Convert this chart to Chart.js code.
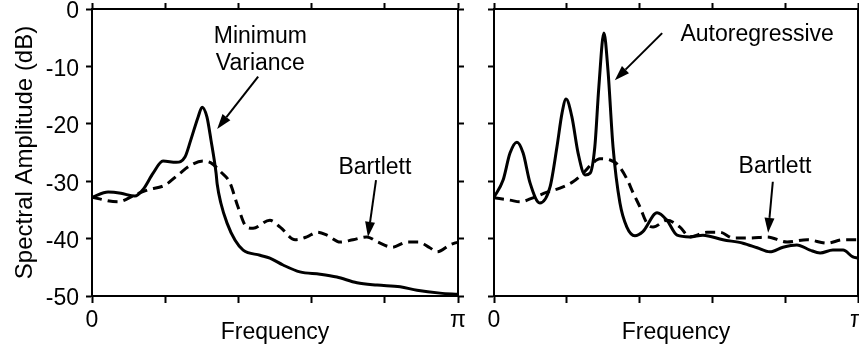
<!DOCTYPE html>
<html>
<head>
<meta charset="utf-8">
<script src="https://cdn.jsdelivr.net/npm/chart.js@4/dist/chart.umd.min.js"></script>
<style>
  html, body { margin: 0; padding: 0; background: #fff; overflow: hidden; }
  #leftChart { position: absolute; left: 0; top: 0; }
  #rightChart { position: absolute; left: 470px; top: 0; }
</style>
</head>
<body>
<canvas id="leftChart" width="470" height="351"></canvas>
<canvas id="rightChart" width="389" height="351"></canvas>
<script>
// frequency is given as a fraction of pi, amplitude in dB
const xTickValues = [0, 0.2, 0.4, 0.6, 0.8, 1];
const xTickLabels = ['0', '', '', '', '', 'π'];
const yTickValues = [0, -10, -20, -30, -40, -50];
const yTickLabels = ['0', '-10', '-20', '-30', '-40', '-50'];

// left panel: minimum variance vs Bartlett
const mvFreq = [0, 0.044, 0.079, 0.117, 0.139, 0.167, 0.194, 0.230, 0.254, 0.270, 0.290, 0.301, 0.314, 0.325, 0.339, 0.342, 0.352, 0.369, 0.391, 0.413, 0.459, 0.486, 0.522, 0.568, 0.623, 0.669, 0.724, 0.779, 0.842, 0.888, 0.951, 1];
const mvAmp  = [-32.8, -31.9, -32.1, -32.6, -31.5, -28.6, -26.5, -26.7, -25.8, -22.8, -18.8, -17.1, -18.8, -22.8, -28.6, -30.5, -33.8, -37.3, -40.3, -42.0, -42.9, -43.4, -44.6, -45.8, -46.2, -46.7, -47.7, -48.1, -48.4, -49.0, -49.5, -49.7];

const bartLFreq = [0, 0.071, 0.117, 0.153, 0.199, 0.235, 0.270, 0.303, 0.325, 0.352, 0.377, 0.399, 0.423, 0.440, 0.486, 0.514, 0.555, 0.587, 0.615, 0.642, 0.678, 0.713, 0.751, 0.781, 0.820, 0.861, 0.891, 0.923, 0.943, 0.978, 1];
const bartLAmp  = [-32.8, -33.6, -32.4, -31.5, -30.7, -28.9, -27.2, -26.5, -26.8, -28.4, -30.3, -34.5, -38.0, -38.2, -36.8, -38.0, -40.2, -39.7, -38.9, -39.4, -40.6, -40.2, -39.7, -40.6, -41.5, -40.6, -40.6, -41.6, -42.3, -41.1, -40.6];

// right panel: autoregressive vs Bartlett
const arFreq = [0, 0.025, 0.044, 0.063, 0.080, 0.099, 0.126, 0.154, 0.173, 0.187, 0.198, 0.214, 0.231, 0.250, 0.264, 0.277, 0.288, 0.302, 0.313, 0.327, 0.346, 0.365, 0.387, 0.409, 0.448, 0.475, 0.503, 0.538, 0.574, 0.629, 0.684, 0.723, 0.758, 0.794, 0.832, 0.868, 0.896, 0.931, 0.959, 0.986, 1];
const arAmp  = [-32.8, -29.8, -25.1, -23.2, -25.1, -30.3, -33.8, -31.0, -24.0, -18.1, -15.7, -18.8, -25.1, -28.9, -28.6, -24.0, -13.6, -4.2, -10.6, -24.0, -33.8, -38.0, -39.5, -38.8, -35.5, -36.8, -39.4, -39.7, -39.4, -40.2, -40.8, -41.6, -42.3, -41.5, -41.1, -42.0, -42.5, -42.0, -42.0, -43.2, -43.4];

const bartRFreq = [0, 0.044, 0.071, 0.107, 0.146, 0.181, 0.217, 0.245, 0.272, 0.291, 0.319, 0.341, 0.365, 0.382, 0.401, 0.420, 0.437, 0.475, 0.511, 0.538, 0.585, 0.621, 0.657, 0.703, 0.750, 0.805, 0.860, 0.915, 0.959, 1];
const bartRAmp  = [-32.9, -33.3, -33.6, -32.9, -31.9, -31.2, -30.1, -28.6, -26.8, -26.1, -26.3, -27.2, -29.6, -32.0, -34.5, -37.3, -38.0, -36.8, -38.0, -39.7, -38.9, -38.9, -39.9, -39.9, -39.7, -40.6, -40.2, -40.8, -40.2, -40.2];

// labels and arrows, placed in data units
const leftTexts = [
  { text: 'Minimum', x: 0.460, y: -4.8 },
  { text: 'Variance', x: 0.460, y: -9.5 },
  { text: 'Bartlett', x: 0.773, y: -27.7 }
];
const leftArrows = [
  { x1: 0.454, y1: -11.8, x2: 0.342, y2: -20.9 },
  { x1: 0.776, y1: -29.8, x2: 0.754, y2: -39.7 }
];
const rightTexts = [
  { text: 'Autoregressive', x: 0.723, y: -4.4 },
  { text: 'Bartlett', x: 0.772, y: -27.5 }
];
const rightArrows = [
  { x1: 0.462, y1: -4.2, x2: 0.332, y2: -12.4 },
  { x1: 0.766, y1: -30.1, x2: 0.753, y2: -39.0 }
];

Chart.defaults.font.family = "'Liberation Sans', Arial, Helvetica, sans-serif";
Chart.defaults.color = '#000';

const toPoints = (xs, ys) => xs.map((x, i) => ({ x: x, y: ys[i] }));

function notesPlugin(texts, arrows) {
  return {
    id: 'notes',
    afterDatasetsDraw(chart) {
      const ctx = chart.ctx, sx = chart.scales.x, sy = chart.scales.y;
      ctx.save();
      ctx.fillStyle = '#000';
      ctx.strokeStyle = '#000';
      ctx.font = "23px 'Liberation Sans', Arial, sans-serif";
      ctx.textAlign = 'center';
      ctx.textBaseline = 'middle';
      texts.forEach(t => ctx.fillText(t.text, sx.getPixelForValue(t.x), sy.getPixelForValue(t.y)));
      arrows.forEach(a => {
        const x1 = sx.getPixelForValue(a.x1), y1 = sy.getPixelForValue(a.y1);
        const x2 = sx.getPixelForValue(a.x2), y2 = sy.getPixelForValue(a.y2);
        const ang = Math.atan2(y2 - y1, x2 - x1);
        const len = 15, half = 5;
        const bx = x2 - len * Math.cos(ang), by = y2 - len * Math.sin(ang);
        ctx.lineWidth = 2;
        ctx.beginPath();
        ctx.moveTo(x1, y1);
        ctx.lineTo(bx, by);
        ctx.stroke();
        ctx.beginPath();
        ctx.moveTo(x2, y2);
        ctx.lineTo(bx + half * Math.sin(ang), by - half * Math.cos(ang));
        ctx.lineTo(bx - half * Math.sin(ang), by + half * Math.cos(ang));
        ctx.closePath();
        ctx.fill();
      });
      ctx.restore();
    }
  };
}

function makeScales(showY, yWidth, rightWidth) {
  const grid = (len) => ({ drawOnChartArea: false, tickLength: len, tickWidth: 2, color: '#000' });
  const border = { color: '#000', width: 2 };
  return {
    x: {
      type: 'linear', position: 'bottom', min: 0, max: 1,
      afterBuildTicks: s => { s.ticks = xTickValues.map(v => ({ value: v })); },
      ticks: { autoSkip: false, maxRotation: 0, padding: 4, font: { size: 23 },
        callback: (v, i) => xTickLabels[i] },
      grid: grid(7), border: border,
      title: { display: true, text: 'Frequency', font: { size: 23 }, padding: { top: 0, bottom: 5 } },
      afterFit: s => { s.height = 55; s.paddingLeft = 0; s.paddingRight = 0; }
    },
    xTop: {
      type: 'linear', position: 'top', min: 0, max: 1,
      afterBuildTicks: s => { s.ticks = xTickValues.map(v => ({ value: v })); },
      ticks: { display: false },
      grid: grid(6), border: border,
      afterFit: s => { s.height = 9; s.paddingLeft = 0; s.paddingRight = 0; }
    },
    y: {
      type: 'linear', position: 'left', min: -50, max: 0,
      afterBuildTicks: s => { s.ticks = yTickValues.map(v => ({ value: v })); },
      ticks: { display: showY, padding: 7, labelOffset: 3, font: { size: 23 },
        callback: (v, i) => yTickLabels[i] },
      grid: grid(6), border: border,
      title: { display: showY, text: 'Spectral Amplitude (dB)', font: { size: 24 }, padding: { top: 11, bottom: 0 } },
      afterFit: s => { s.width = yWidth; s.paddingTop = 0; s.paddingBottom = 0; }
    },
    yRight: {
      type: 'linear', position: 'right', min: -50, max: 0,
      afterBuildTicks: s => { s.ticks = yTickValues.map(v => ({ value: v })); },
      ticks: { display: false },
      grid: grid(6), border: border,
      afterFit: s => { s.width = rightWidth; s.paddingTop = 0; s.paddingBottom = 0; }
    }
  };
}

function makeChart(id, solidF, solidA, dashF, dashA, showY, yWidth, rightWidth, texts, arrows) {
  return new Chart(document.getElementById(id), {
    type: 'line',
    data: {
      datasets: [
        { data: toPoints(solidF, solidA), xAxisID: 'x', yAxisID: 'y',
          borderColor: '#000', borderWidth: 3, pointRadius: 0, fill: false,
          cubicInterpolationMode: 'monotone' },
        { data: toPoints(dashF, dashA), xAxisID: 'x', yAxisID: 'y',
          borderColor: '#000', borderWidth: 3, borderDash: [10, 6], pointRadius: 0, fill: false,
          cubicInterpolationMode: 'monotone' }
      ]
    },
    options: {
      responsive: false,
      animation: false,
      devicePixelRatio: 1,
      layout: { padding: 0 },
      plugins: { legend: { display: false }, tooltip: { enabled: false } },
      scales: makeScales(showY, yWidth, rightWidth)
    },
    plugins: [notesPlugin(texts, arrows)]
  });
}

makeChart('leftChart', mvFreq, mvAmp, bartLFreq, bartLAmp, true, 92, 12, leftTexts, leftArrows);
makeChart('rightChart', arFreq, arAmp, bartRFreq, bartRAmp, false, 24, 1, rightTexts, rightArrows);
</script>
</body>
</html>
